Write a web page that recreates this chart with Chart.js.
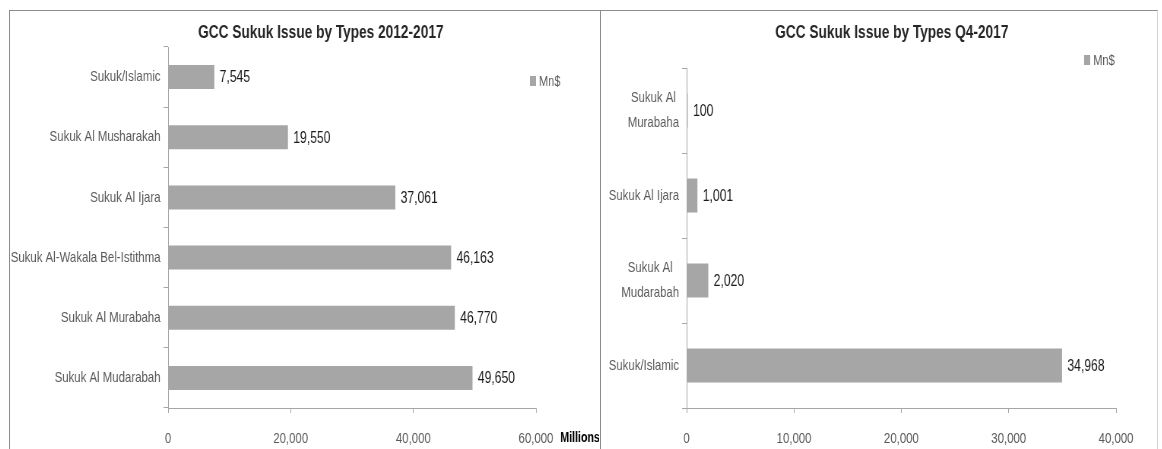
<!DOCTYPE html>
<html>
<head>
<meta charset="utf-8">
<script src="https://cdn.jsdelivr.net/npm/chart.js@4.4.1/dist/chart.umd.min.js"></script>
<style>
  html, body { margin: 0; padding: 0; background: #fff; overflow: hidden; }
  body { width: 1162px; height: 449px; position: relative; }
  #p1 { position: absolute; left: 9px; top: 10px; width: 590px; height: 460px; border-left: 1px solid #8c8c8c; border-top: 1px solid #8c8c8c; border-right: 1px solid #8c8c8c; }
  #p2 { position: absolute; left: 600px; top: 10px; width: 557px; height: 460px; border-top: 1px solid #8c8c8c; border-right: 1px solid #d4d4d4; }
  .cw { position: absolute; top: 0; left: 0; height: 458px; transform: scaleX(0.76); transform-origin: 0 0; }
  #c1w { width: 775px; }
  #c2w { width: 732px; }
</style>
</head>
<body>
<div id="p1"><div class="cw" id="c1w"><canvas id="c1"></canvas></div></div>
<div id="p2"><div class="cw" id="c2w"><canvas id="c2"></canvas></div></div>
<script>
// ---- Data ----
const titleAll = "GCC Sukuk Issue by Types 2012-2017";
const categoriesAll = ["Sukuk/Islamic", "Sukuk Al Musharakah", "Sukuk Al Ijara", "Sukuk Al-Wakala Bel-Istithma", "Sukuk Al Murabaha", "Sukuk Al Mudarabah"];
const valuesAll = [7545, 19550, 37061, 46163, 46770, 49650];
const ticksAll = [0, 20000, 40000, 60000];

const titleQ4 = "GCC Sukuk Issue by Types Q4-2017";
const categoriesQ4 = [["Sukuk Al", "Murabaha"], "Sukuk Al Ijara", ["Sukuk Al", "Mudarabah"], "Sukuk/Islamic"];
const valuesQ4 = [100, 1001, 2020, 34968];
const ticksQ4 = [0, 10000, 20000, 30000, 40000];

const seriesName = "Mn$";
const unitLabel = "Millions";

// ---- Styles ----
const FONT = "'Liberation Sans', Arial, sans-serif";
const BAR = "#a6a6a6";
const AXIS = "#a6a6a6";
const TXT = "#595959";
const fmt = v => Number(v).toLocaleString('en-US');

// centre the lines of a wrapped category label inside its right-aligned block
const mctx = document.createElement('canvas').getContext('2d');
function centerLines(label) {
  if (!Array.isArray(label)) return label;
  mctx.font = "15px " + FONT;
  const ws = label.map(l => mctx.measureText(l).width);
  const max = Math.max(...ws);
  const sp = mctx.measureText(' ').width;
  return label.map((l, i) => l + ' '.repeat(Math.round((max - ws[i]) / 2 / sp)));
}

const valueLabels = {
  id: 'valueLabels',
  afterDatasetsDraw(chart) {
    const ctx = chart.ctx;
    ctx.save();
    ctx.font = "16px " + FONT;
    ctx.fillStyle = "#1a1a1a";
    ctx.textBaseline = "middle";
    ctx.textAlign = "left";
    chart.getDatasetMeta(0).data.forEach((el, i) => {
      ctx.fillText(fmt(chart.data.datasets[0].data[i]), el.x + 7, el.y + 1);
    });
    ctx.restore();
  }
};

const chartTitle = {
  id: 'chartTitle',
  afterDraw(chart, args, opts) {
    const ctx = chart.ctx;
    ctx.save();
    ctx.font = "bold 18px " + FONT;
    ctx.fillStyle = "#262626";
    ctx.textBaseline = "middle";
    ctx.textAlign = "center";
    ctx.fillText(opts.text, opts.x, opts.y);
    ctx.restore();
  }
};

const legendBox = {
  id: 'legendBox',
  afterDraw(chart, args, opts) {
    const ctx = chart.ctx;
    ctx.save();
    ctx.fillStyle = BAR;
    ctx.fillRect(opts.x, opts.y - 5, 8, 10);
    ctx.font = "14.5px " + FONT;
    ctx.fillStyle = TXT;
    ctx.textBaseline = "middle";
    ctx.textAlign = "left";
    ctx.fillText(chart.data.datasets[0].label, opts.x + 12, opts.y + 1);
    ctx.restore();
  }
};

const unitText = {
  id: 'unitText',
  afterDraw(chart, args, opts) {
    if (!opts.text) return;
    const ctx = chart.ctx, xs = chart.scales.x;
    ctx.save();
    ctx.font = "bold 14px " + FONT;
    ctx.fillStyle = "#000";
    ctx.textBaseline = "middle";
    ctx.textAlign = "left";
    ctx.fillText(opts.text, xs.right + 32, xs.top + 30);
    ctx.restore();
  }
};

function makeChart(id, title, cats, vals, ticks, cfg) {
  return new Chart(document.getElementById(id), {
    type: 'bar',
    data: {
      labels: cats,
      datasets: [{ label: seriesName, data: vals, backgroundColor: BAR, borderWidth: 0,
                   barPercentage: 0.4, categoryPercentage: 1.0 }]
    },
    options: {
      indexAxis: 'y',
      responsive: true,
      maintainAspectRatio: false,
      animation: false,
      layout: { padding: { left: 0, right: cfg.padR, top: cfg.padT, bottom: 4 } },
      plugins: {
        legend: { display: false },
        tooltip: { enabled: false },
        title: { display: false },
        chartTitle: { text: title, x: cfg.titleX, y: 22 },
        legendBox: { x: cfg.legX, y: cfg.legY },
        unitText: { text: cfg.unit }
      },
      scales: {
        x: {
          min: 0, max: ticks[ticks.length - 1],
          afterBuildTicks: s => { s.ticks = ticks.map(v => ({ value: v })); },
          ticks: { callback: v => fmt(v), color: TXT, font: { family: FONT, size: 15 }, padding: 17, maxRotation: 0 },
          grid: { display: true, drawOnChartArea: false, drawTicks: true, tickLength: 5, color: AXIS, lineWidth: 1 },
          border: { display: true, color: AXIS, width: 1 }
        },
        y: {
          afterFit: s => { s.width = cfg.yW; },
          ticks: { color: TXT, font: { family: FONT, size: 15, lineHeight: 1.7 }, padding: 4, autoSkip: false,
                   callback: function (v) { return centerLines(this.getLabelForValue(v)); } },
          grid: { display: true, drawOnChartArea: false, drawTicks: true, tickLength: 6, color: AXIS, offset: true },
          border: { display: true, color: AXIS, width: 1 }
        }
      }
    },
    plugins: [valueLabels, chartTitle, legendBox, unitText]
  });
}

makeChart('c1', titleAll, categoriesAll, valuesAll, ticksAll,
  { padR: 83, padT: 36, yW: 208, titleX: 409, legX: 684, legY: 70, unit: unitLabel });
makeChart('c2', titleQ4, categoriesQ4, valuesQ4, ticksQ4,
  { padR: 53, padT: 57, yW: 114, titleX: 384, legX: 637, legY: 49, unit: "" });
</script>
</body>
</html>
